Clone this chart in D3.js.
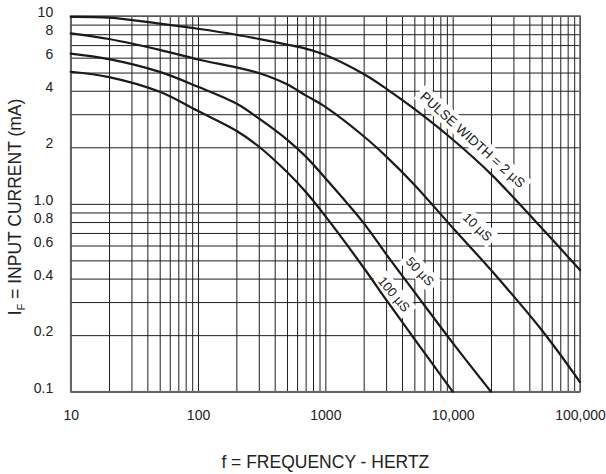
<!DOCTYPE html>
<html>
<head>
<meta charset="utf-8">
<script src="https://cdn.jsdelivr.net/npm/d3@7"></script>
<style>
  html, body { margin: 0; padding: 0; background: #fff; }
  svg { display: block; }
  text { font-family: "Liberation Sans", Arial, Helvetica, sans-serif; fill: #222; }
</style>
</head>
<body>
<svg id="chart" width="606" height="474"></svg>
<script>
// ---- data ----
const freqs = [10, 20, 50, 100, 200, 300, 500, 700, 1000, 2000, 3000, 5000, 10000, 20000, 50000, 100000];
const pw2us   = [9.9, 9.8, 9.1, 8.55, 7.95, 7.55, 7.05, 6.7, 6.2, 4.91, 4.11, 3.20, 2.20, 1.44, 0.743, 0.444];
const pw10us  = [8.09, 7.54, 6.6, 5.87, 5.33, 4.97, 4.33, 3.78, 3.28, 2.29, 1.79, 1.265, 0.746, 0.444, 0.213, 0.1126];
const pw50us  = [6.31, 5.89, 5.04, 4.2, 3.42, 2.85, 2.20, 1.79, 1.37, 0.79, 0.54, 0.34, 0.182, 0.1];
const pw100us = [5.05, 4.73, 3.95, 3.12, 2.45, 2.02, 1.476, 1.159, 0.86, 0.457, 0.309, 0.191, 0.1];

const xTickValues = [10, 100, 1000, 10000, 100000];
const xTickLabels = ["10", "100", "1000", "10,000", "100,000"];
const yTickValues = [10, 8, 6, 4, 2, 1, 0.8, 0.6, 0.4, 0.2, 0.1];
const yTickLabels = ["10", "8", "6", "4", "2", "1.0", "0.8", "0.6", "0.4", "0.2", "0.1"];

const curveLabels = ["PULSE WIDTH = 2 \u00B5S", "10 \u00B5S", "50 \u00B5S", "100 \u00B5S"];
const labelFreq   = [14400, 15700, 5546, 3467];
const labelValue  = [2.2, 0.755, 0.438, 0.331];
const labelAngle  = [42, 44, 47, 50];

const xTitle = "f = FREQUENCY - HERTZ";

// ---- layout ----
const svg = d3.select("#chart");
const X0 = 70.7, X1 = 580, Y0 = 16, Y1 = 391.7;
const x = d3.scaleLog().domain([10, 100000]).range([X0, X1]);
const y = d3.scaleLog().domain([0.1, 10]).range([Y1, Y0]);

// grid values (1..9 per decade)
const xGrid = [];
[10, 100, 1000, 10000].forEach(d => { for (let k = 1; k <= 9; k++) xGrid.push(d * k); });
xGrid.push(100000);
const yGrid = [];
[0.1, 1].forEach(d => { for (let k = 1; k <= 9; k++) yGrid.push(+(d * k).toFixed(2)); });
yGrid.push(10);

const gridG = svg.append("g");
gridG.append("g")
  .attr("transform", `translate(0,${Y1})`)
  .call(d3.axisBottom(x).tickValues(xGrid).tickSize(-(Y1 - Y0)).tickFormat(""))
  .call(g => g.select(".domain").remove())
  .call(g => g.selectAll("line").attr("stroke", "#1e1e1e").attr("stroke-width", 1));
gridG.append("g")
  .attr("transform", `translate(${X0},0)`)
  .call(d3.axisLeft(y).tickValues(yGrid).tickSize(-(X1 - X0)).tickFormat(""))
  .call(g => g.select(".domain").remove())
  .call(g => g.selectAll("line").attr("stroke", "#1e1e1e").attr("stroke-width", 1));

// frame
svg.append("rect")
  .attr("x", X0).attr("y", Y0).attr("width", X1 - X0).attr("height", Y1 - Y0)
  .attr("fill", "none").attr("stroke", "#666").attr("stroke-width", 1.6);

// tick labels
svg.append("g")
  .attr("transform", `translate(0,${Y1})`)
  .call(d3.axisBottom(x).tickValues(xTickValues).tickSize(0)
        .tickFormat(d => xTickLabels[xTickValues.indexOf(d)]))
  .call(g => g.select(".domain").remove())
  .call(g => g.selectAll("text").attr("y", 28.5).attr("dy", 0)
        .style("font-size", "14px").style("font-family", "'Liberation Sans', Arial, sans-serif").attr("fill", "#222"));

svg.append("g")
  .attr("transform", `translate(${X0},0)`)
  .call(d3.axisLeft(y).tickValues(yTickValues).tickSize(0)
        .tickFormat(d => yTickLabels[yTickValues.indexOf(d)]))
  .call(g => g.select(".domain").remove())
  .call(g => g.selectAll("text").attr("x", -17.5).attr("y", 0.5).attr("dy", 0)
        .style("font-size", "14px").style("font-family", "'Liberation Sans', Arial, sans-serif").attr("fill", "#222"));

// axis titles
svg.append("text")
  .attr("x", (X0 + X1) / 2).attr("y", 467.5)
  .attr("text-anchor", "middle")
  .style("font-size", "17.5px")
  .text(xTitle);

const yt = svg.append("text")
  .attr("transform", `translate(21,${207}) rotate(-90)`)
  .attr("text-anchor", "middle")
  .style("font-size", "17.5px");
yt.append("tspan").text("I");
yt.append("tspan").attr("dy", 4).style("font-size", "11px").text("F");
yt.append("tspan").attr("dy", -4).text(" = INPUT CURRENT (mA)");

// curve labels with white backgrounds
const labG = svg.append("g");
curveLabels.forEach((t, i) => {
  const g = labG.append("g")
    .attr("transform", `translate(${x(labelFreq[i])},${y(labelValue[i])}) rotate(${labelAngle[i]})`);
  const bg = g.append("rect").attr("fill", "#fff");
  const txt = g.append("text")
    .attr("text-anchor", "middle")
    .attr("dy", "0.36em")
    .style("font-size", i === 0 ? "13.5px" : "13px")
    .text(t);
  const w = txt.node().getComputedTextLength();
  bg.attr("x", -w / 2 - 4).attr("y", -9).attr("width", w + 8).attr("height", 18);
});

// curves
const series = [pw2us, pw10us, pw50us, pw100us];
const line = d3.line()
  .x(d => x(d[0]))
  .y(d => y(d[1]))
  .curve(d3.curveCatmullRom.alpha(0.5));
svg.append("g").selectAll("path")
  .data(series.map(s => s.map((v, i) => [freqs[i], v])))
  .join("path")
  .attr("d", line)
  .attr("fill", "none")
  .attr("stroke", "#1a1a1a")
  .attr("stroke-width", 2.2)
  .attr("stroke-linecap", "round");
</script>
</body>
</html>
